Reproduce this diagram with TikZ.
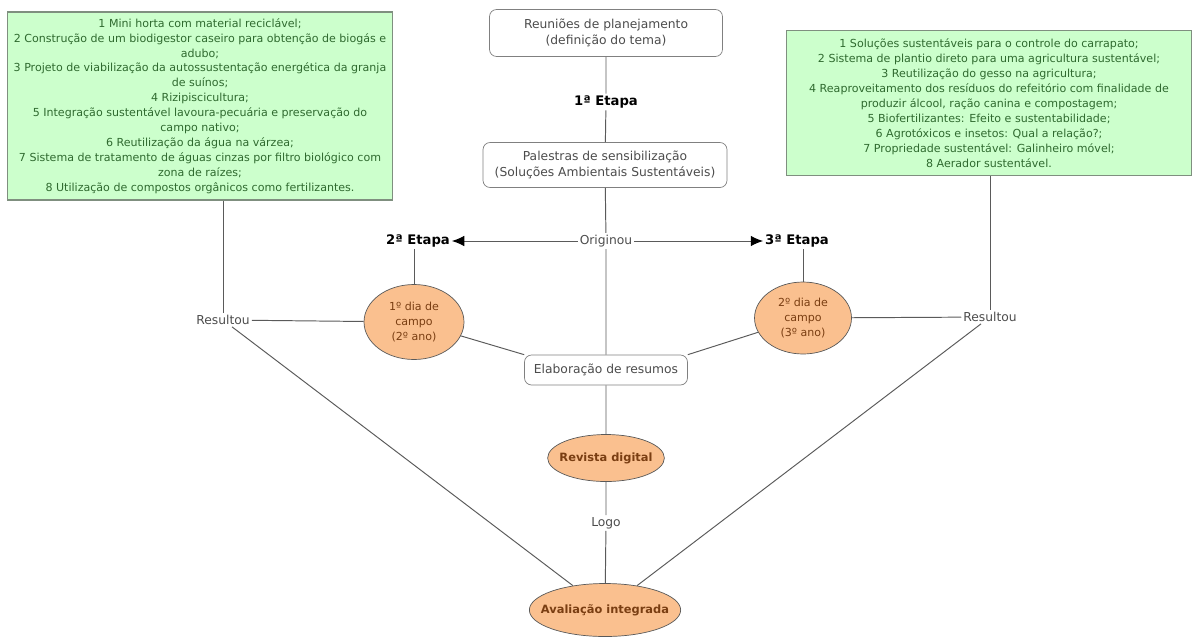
\documentclass[tikz,border=0pt]{standalone}
\usepackage{fontspec}
\setmainfont{DejaVu Sans}
\usetikzlibrary{shapes.geometric,arrows.meta}
\definecolor{listagreen}{HTML}{CCFFCC}
\definecolor{listaborda}{HTML}{7F8F7F}
\definecolor{listatexto}{HTML}{2F6A2F}
\definecolor{diaorange}{HTML}{FAC08F}
\definecolor{diatexto}{HTML}{7A3E12}
\definecolor{linha}{HTML}{5A5A5A}

\begin{document}
\begin{tikzpicture}[x=0.02cm,y=-0.02cm,
	font=\fontsize{6.3}{8.5}\selectfont,
	lista/.style={draw=listaborda, line width=0.8pt, fill=listagreen, text=listatexto, align=center, inner sep=1pt},
	caixa/.style={draw=gray, rounded corners=4pt, fill=white, text=black!70, align=center, font=\fontsize{7}{9}\selectfont},
	dia/.style={draw=black!65, ellipse, fill=diaorange, text=diatexto, align=center, inner sep=0pt},
	final/.style={dia, inner xsep=-3pt, font=\fontsize{6.5}{9}\selectfont\bfseries},
	rotulo/.style={text=black!70, inner sep=1pt, font=\fontsize{7}{9}\selectfont},
	etapa/.style={inner sep=1pt, font=\fontsize{7.5}{9}\selectfont\bfseries},
	liga/.style={draw=linha, line width=0.55pt},
	seta/.style={liga, -{Latex[length=7pt,width=6pt,color=black]}}]
	\useasboundingbox (0,0) rectangle (1195,636);
	\node[lista, minimum width=7.7cm, minimum height=3.76cm] (lista1) at (200,106) {1 Mini horta com material reciclável;\\2 Construção de um biodigestor caseiro para obtenção de biogás e\\adubo;\\3 Projeto de viabilização da autossustentação energética da granja\\de suínos;\\4 Rizipiscicultura;\\5 Integração sustentável lavoura-pecuária e preservação do\\campo nativo;\\6 Reutilização da água na várzea;\\7 Sistema de tratamento de águas cinzas por filtro biológico com\\zona de raízes;\\8 Utilização de compostos orgânicos como fertilizantes.};
	\node[lista, minimum width=8.1cm, minimum height=2.9cm] (lista2) at (989,103) {1 Soluções sustentáveis para o controle do carrapato;\\2 Sistema de plantio direto para uma agricultura sustentável;\\3 Reutilização do gesso na agricultura;\\4 Reaproveitamento dos resíduos do refeitório com finalidade de\\produzir álcool, ração canina e compostagem;\\5 Biofertilizantes: Efeito e sustentabilidade;\\6 Agrotóxicos e insetos: Qual a relação?;\\7 Propriedade sustentável: Galinheiro móvel;\\8 Aerador sustentável.};
	\node[caixa, minimum width=4.66cm, minimum height=0.94cm] (reuniao) at (606,33) {Reuniões de planejamento\\(definição do tema)};
	\node[etapa] (etapa1) at (606,102) {1ª Etapa};
	\node[caixa, minimum width=4.88cm, minimum height=0.9cm] (palestra) at (605,165) {Palestras de sensibilização\\(Soluções Ambientais Sustentáveis)};
	\node[rotulo] (origem) at (606,241) {Originou};
	\node[etapa] (etapa2) at (418,241) {2ª Etapa};
	\node[etapa] (etapa3) at (797,241) {3ª Etapa};
	\node[dia, minimum width=2.0cm, minimum height=1.5cm] (dia1) at (414,322) {1º dia de\\campo\\(2º ano)};
	\node[dia, minimum width=1.94cm, minimum height=1.44cm] (dia2) at (803,318) {2º dia de\\campo\\(3º ano)};
	\node[rotulo] (res1) at (223,320) {Resultou};
	\node[rotulo] (res2) at (990,317) {Resultou};
	\node[caixa, minimum width=3.26cm, minimum height=0.6cm] (resumo) at (606,370) {Elaboração de resumos};
	\node[final, minimum height=0.94cm] (revista) at (606,458) {Revista digital};
	\node[rotulo] (logo) at (606,523) {Logo};
	\node[final, inner xsep=-6pt, minimum height=1.06cm] (aval) at (605,610) {Avaliação integrada};
	\draw[liga] (reuniao) -- (etapa1) -- (palestra) -- (origem) -- (resumo) -- (revista) -- (logo) -- (aval);
	\draw[seta] (origem) -- (etapa2);
	\draw[seta] (origem) -- (etapa3);
	\draw[liga] (etapa2.south -| dia1.north) -- (dia1.north);
	\draw[liga] (etapa3.south -| dia2.north) -- (dia2.north);
	\draw[liga] (lista1.south -| res1) -- (res1);
	\draw[liga] (lista2.south -| res2) -- (res2);
	\draw[liga] (res1) -- (dia1);
	\draw[liga] (res2) -- (dia2);
	\draw[liga] (dia1) -- (resumo.north west);
	\draw[liga] (dia2) -- (resumo.north east);
	\draw[liga] (res1) -- (aval);
	\draw[liga] (res2) -- (aval);
\end{tikzpicture}
\end{document}
